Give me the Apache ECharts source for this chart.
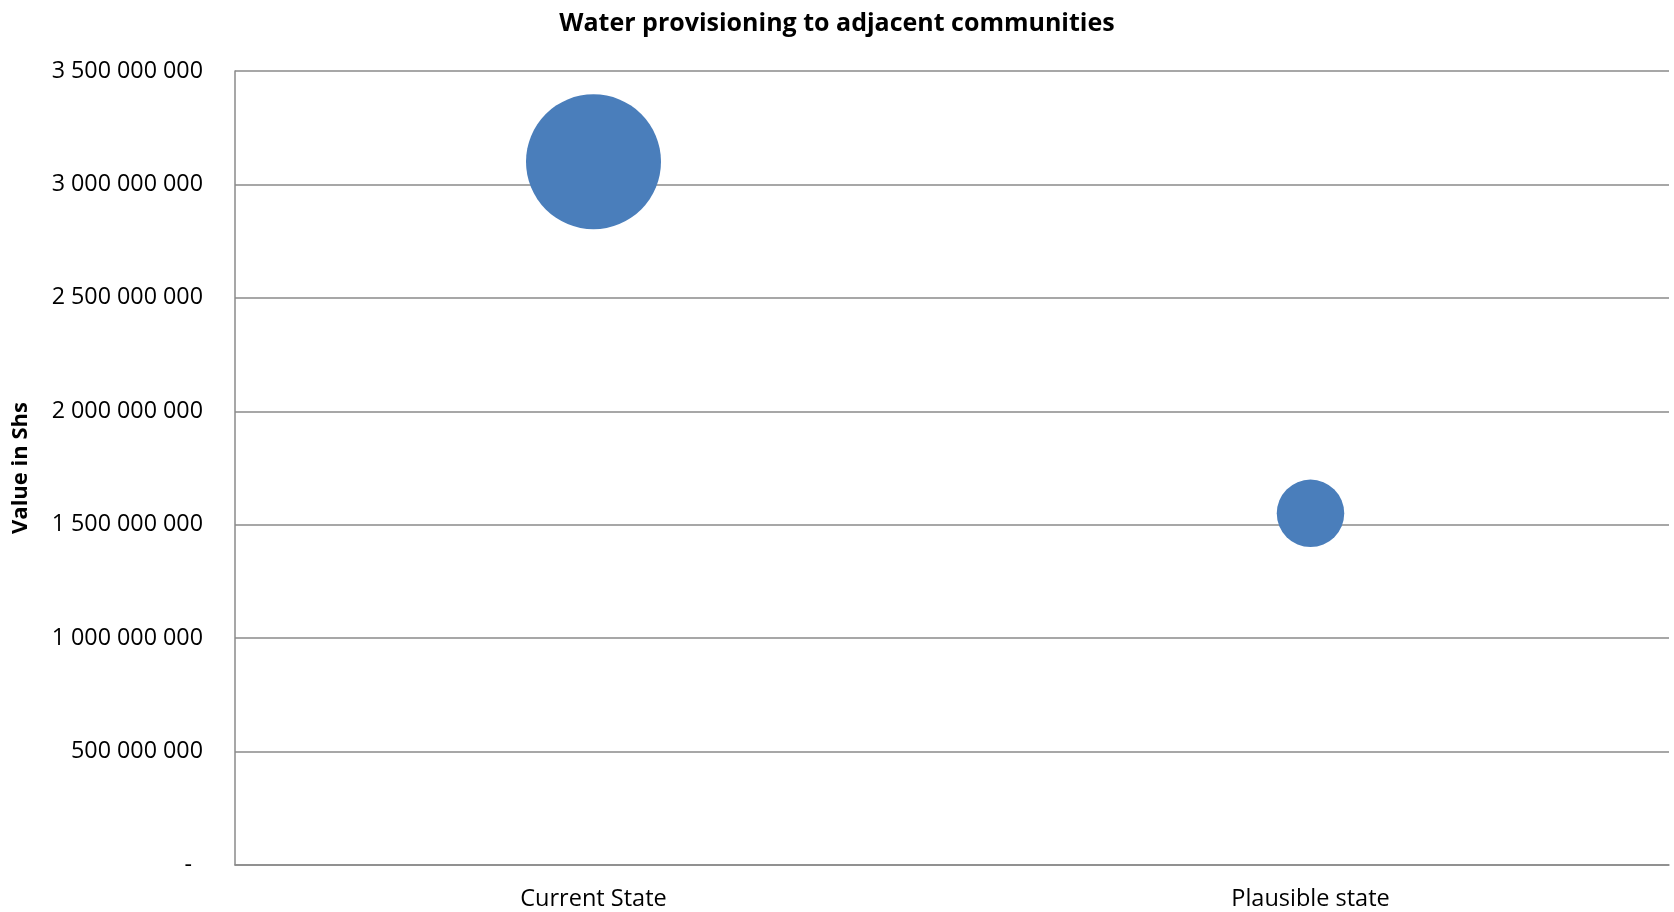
<!DOCTYPE html>
<html>
<head>
<meta charset="utf-8">
<script src="https://cdn.jsdelivr.net/npm/echarts@6/dist/echarts.min.js"></script>
<style>
  html, body { margin: 0; padding: 0; background: #fff; }
  #chart { width: 1674px; height: 912px; }
</style>
</head>
<body>
<div id="chart"></div>
<script>
// Scenario categories along the x axis
const categories = ['Current State', 'Plausible state'];
// Value of water provisioning (Shs)
const values = [3100000000, 1550000000];
// Bubble size measure (bubble width follows this figure)
const bubbleSizes = [3100000000, 1550000000];
// Y axis ticks
const yMin = 0;
const yMax = 3500000000;
const yStep = 500000000;

const FONT = '"Open Sans", sans-serif';
const maxBubble = Math.max.apply(null, bubbleSizes);
const maxDiameter = 135;

// Accounting-style numbers: space thousands separator, dash for zero
function fmt(v) {
  if (v === 0) return '{dash|-}';
  return String(Math.round(v)).replace(/\B(?=(\d{3})+(?!\d))/g, ' ');
}

const chart = echarts.init(document.getElementById('chart'));
chart.setOption({
  animation: false,
  backgroundColor: '#ffffff',
  title: {
    text: 'Water provisioning to adjacent communities',
    left: 'center',
    top: 6,
    textStyle: { fontFamily: FONT, fontSize: 25, fontWeight: 'bold', color: '#000' }
  },
  grid: { left: 235, right: 5, top: 71, bottom: 47 },
  xAxis: {
    type: 'category',
    data: categories,
    boundaryGap: true,
    axisLine: { show: true, lineStyle: { color: '#8a8a8a', width: 1.5 } },
    axisTick: { show: false },
    axisLabel: { fontFamily: FONT, fontSize: 23.5, color: '#000', margin: 22 },
    splitLine: { show: false }
  },
  yAxis: {
    type: 'value',
    min: yMin,
    max: yMax,
    interval: yStep,
    name: 'Value in Shs',
    nameLocation: 'middle',
    nameGap: 203,
    nameTextStyle: { fontFamily: FONT, fontSize: 22, fontWeight: 'bold', color: '#000' },
    axisLine: { show: true, lineStyle: { color: '#8a8a8a', width: 1.5 } },
    axisTick: { show: false },
    axisLabel: {
      fontFamily: FONT, fontSize: 23.3, color: '#000', margin: 32, formatter: fmt,
      rich: { dash: { fontFamily: FONT, fontSize: 23.3, color: '#000', padding: [0, 11, 0, 0] } }
    },
    splitLine: { show: true, lineStyle: { color: '#8a8a8a', width: 1.5 } }
  },
  series: [{
    type: 'scatter',
    data: values.map(function (v, i) { return [i, v, bubbleSizes[i]]; }),
    symbol: 'circle',
    symbolSize: function (d) { return d[2] / maxBubble * maxDiameter; },
    itemStyle: { color: '#4a7ebb', opacity: 1 }
  }]
});
</script>
</body>
</html>
